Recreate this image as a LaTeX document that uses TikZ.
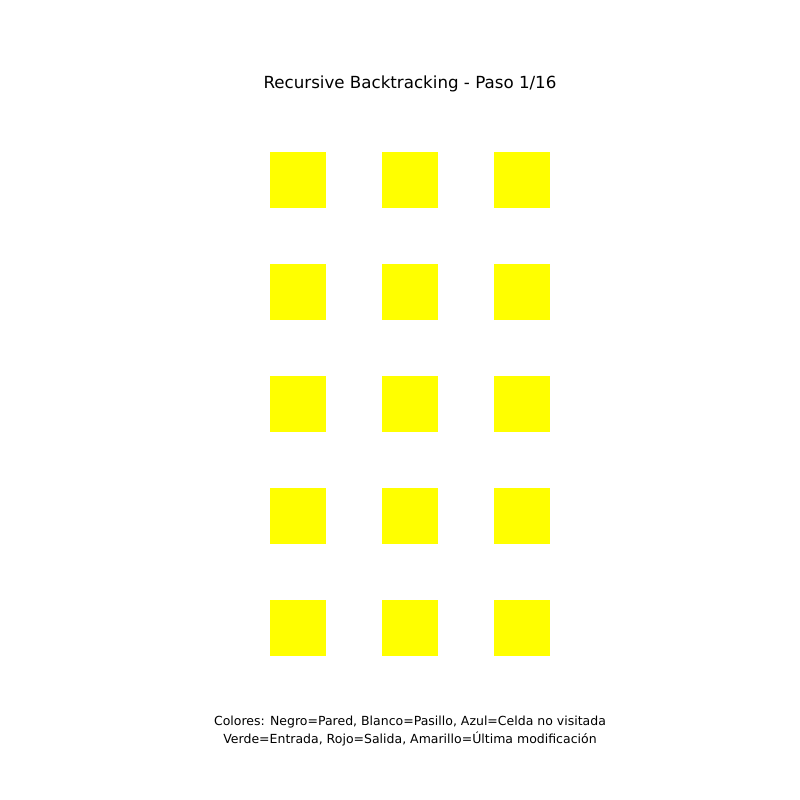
\documentclass[tikz,border=0pt]{standalone}
\usepackage{fontspec}
\setmainfont{DejaVu Sans}
\begin{document}
\begin{tikzpicture}[x=1pt,y=-1pt,
  cell/.style={fill=yellow,draw=none,minimum width=56pt,minimum height=56pt,inner sep=0pt,outer sep=0pt,anchor=north west},
  title/.style={font=\fontsize{16.67}{20}\selectfont,inner sep=0pt},
  caption/.style={font=\fontsize{12.5}{18}\selectfont,inner sep=0pt,align=center}]
\useasboundingbox (0,0) rectangle (800,800);
\fill[white] (0,0) rectangle (800,800);
\definecolor{yellow}{RGB}{255,255,0}
\foreach \r in {0,...,4}{
  \foreach \c in {0,1,2}{
    \node[cell] (c\r\c) at ({270+112*\c},{152+112*\r}) {};
  }
}
\node[title] (t) at (410,84) {Recursive Backtracking - Paso 1/16};
\node[caption] (cap) at (410,731.5) {Colores: Negro=Pared, Blanco=Pasillo, Azul=Celda no visitada\\Verde=Entrada, Rojo=Salida, Amarillo=Última modificación};
\end{tikzpicture}
\end{document}
